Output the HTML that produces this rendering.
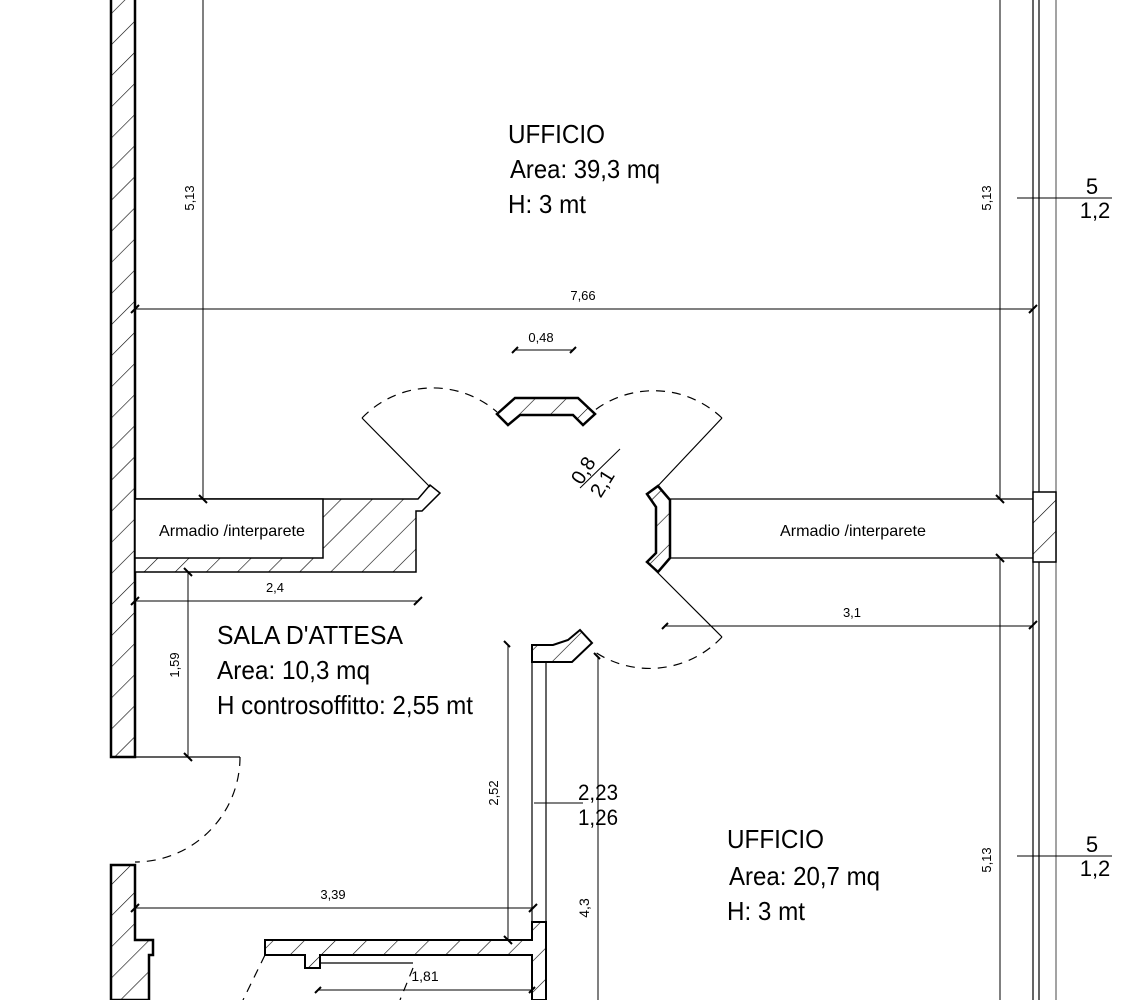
<!DOCTYPE html>
<html><head><meta charset="utf-8"><style>html,body{margin:0;padding:0;background:#fff}svg{display:block}</style></head>
<body>
<svg width="1143" height="1000" viewBox="0 0 1143 1000" xmlns="http://www.w3.org/2000/svg" font-family="'Liberation Sans Narrow','Liberation Sans',sans-serif" fill="none" stroke="#000">
<defs>
<pattern id="h" patternUnits="userSpaceOnUse" width="22" height="22" patternTransform="rotate(45)">
<rect width="22" height="22" fill="#fff" stroke="none"/>
<line x1="0" y1="0" x2="0" y2="22" stroke="#000" stroke-width="1.2"/>
</pattern>
</defs>
<g stroke-width="1.2">
<line x1="1033" y1="0" x2="1033" y2="1000"/>
<line x1="1039" y1="0" x2="1039" y2="1000"/>
<line x1="1056" y1="0" x2="1056" y2="1000" stroke="#666"/>
<rect x="1033" y="492" width="23" height="70" fill="url(#h)" stroke-width="1.5"/>

<path d="M111 0 V757 H135 V0" fill="url(#h)" stroke-width="2.5"/>
<path d="M135 572 H416 V511 H422 L440 493 L430 485 L418 499 H135 Z" fill="url(#h)" stroke-width="1.5"/>
<rect x="135" y="499" width="188" height="59" fill="#fff" stroke-width="1.5"/>
<line x1="670" y1="499" x2="1033" y2="499"/>
<line x1="670" y1="558" x2="1033" y2="558"/>
<path d="M647 494 L658 486 L670 500 V558 L658 572 L647 562 L656 553 V507 Z" fill="url(#h)" stroke-width="2.5"/>
<path d="M497 414 L515 398 H578 L595 414 L583 425 L573 415 H520 L508 425 Z" fill="url(#h)" stroke-width="2.5"/>
<line x1="430" y1="487" x2="362" y2="418"/>
<path d="M362 418 A98 98 0 0 1 497 412" stroke-dasharray="9 7"/>
<line x1="655" y1="489" x2="722" y2="418"/>
<path d="M722 418 A99 99 0 0 0 595 410" stroke-dasharray="9 7"/>
<line x1="655" y1="570" x2="722" y2="637"/>
<path d="M722 637 A99 99 0 0 1 595 652" stroke-dasharray="9 7"/>
<path d="M532 645 H553 L568 640 L580 630 L592 643 L572 662 H532 Z" fill="url(#h)" stroke-width="2"/>
<line x1="532" y1="662" x2="532" y2="922"/>
<line x1="546" y1="662" x2="546" y2="922"/>
<path d="M265 940 H532 V922 H546 V1000 H532 V955 H320 V968 H305 V955 H265 Z" fill="url(#h)" stroke-width="2"/>
<path d="M111 1000 V865 H135 V940 H153 V955 H149 V1000 Z" fill="url(#h)" stroke-width="2.5"/>
<line x1="111" y1="757" x2="240" y2="757"/>
<path d="M240 757 A105 105 0 0 1 135 862" stroke-dasharray="9 7"/>
<path d="M265 955 L243 1000" stroke-dasharray="9 7"/>
<path d="M413 968 L400 1000" stroke-dasharray="9 7"/>
<line x1="320" y1="963" x2="413" y2="963"/>

<g stroke-width="1">
<line x1="203" y1="0" x2="203" y2="499"/>
<line x1="1000" y1="0" x2="1000" y2="499"/>
<line x1="1000" y1="558" x2="1000" y2="1000"/>
<line x1="135" y1="309" x2="1033" y2="309"/>
<line x1="515" y1="350" x2="573" y2="350"/>
<line x1="1017" y1="198" x2="1112" y2="198"/>
<line x1="1017" y1="856" x2="1112" y2="856"/>
<line x1="665" y1="626" x2="1033" y2="626"/>
<line x1="135" y1="601" x2="418" y2="601"/>
<line x1="188" y1="572" x2="188" y2="757"/>
<line x1="135" y1="908" x2="533" y2="908"/>
<line x1="508" y1="645" x2="508" y2="940"/>
<line x1="534" y1="803" x2="583" y2="803"/>
<line x1="598" y1="657" x2="598" y2="1000"/>
<line x1="318" y1="990" x2="532" y2="990"/>
<line x1="580" y1="488" x2="620" y2="449"/>
</g>
<g stroke-width="2">
<path d="M199 495 l8 8 M996 495 l8 8 M996 554 l8 8 M131 313 l8 -8 M1029 313 l8 -8 M512 353 l6 -6 M570 353 l6 -6 M662 629 l6 -6 M1029 629 l8 -8 M131 605 l8 -8 M414 605 l8 -8 M184 568 l8 8 M184 753 l8 8 M131 912 l8 -8 M529 912 l8 -8 M504 641 l6 6 M504 936 l8 8 M594 653 l6 6 M315 993 l6 -6 M529 993 l6 -6"/>
</g>
</g>

<g fill="#000" stroke="none">
<text x="508" y="143" font-size="26" textLength="97" lengthAdjust="spacingAndGlyphs">UFFICIO</text>
<text x="510" y="178" font-size="26" textLength="150" lengthAdjust="spacingAndGlyphs">Area: 39,3 mq</text>
<text x="508" y="213" font-size="26" textLength="78" lengthAdjust="spacingAndGlyphs">H: 3 mt</text>
<text x="727" y="848" font-size="26" textLength="97" lengthAdjust="spacingAndGlyphs">UFFICIO</text>
<text x="729" y="885" font-size="26" textLength="151" lengthAdjust="spacingAndGlyphs">Area: 20,7 mq</text>
<text x="727" y="920" font-size="26" textLength="78" lengthAdjust="spacingAndGlyphs">H: 3 mt</text>
<text x="217" y="644" font-size="26" textLength="186" lengthAdjust="spacingAndGlyphs">SALA D'ATTESA</text>
<text x="217" y="679" font-size="26" textLength="153" lengthAdjust="spacingAndGlyphs">Area: 10,3 mq</text>
<text x="217" y="714" font-size="26" textLength="256" lengthAdjust="spacingAndGlyphs">H controsoffitto: 2,55 mt</text>
<text x="159" y="536" font-size="16" textLength="146" lengthAdjust="spacingAndGlyphs">Armadio /interparete</text>
<text x="780" y="536" font-size="16" textLength="146" lengthAdjust="spacingAndGlyphs">Armadio /interparete</text>
<text x="583" y="300" font-size="13" text-anchor="middle">7,66</text>
<text x="541" y="342" font-size="13" text-anchor="middle">0,48</text>
<text x="852" y="617" font-size="13" text-anchor="middle">3,1</text>
<text x="275" y="592" font-size="13" text-anchor="middle">2,4</text>
<text x="333" y="899" font-size="13" text-anchor="middle">3,39</text>
<text x="425" y="981" font-size="14" text-anchor="middle">1,81</text>
<text transform="translate(194,198) rotate(-90)" font-size="13" text-anchor="middle">5,13</text>
<text transform="translate(991,198) rotate(-90)" font-size="13" text-anchor="middle">5,13</text>
<text transform="translate(991,860) rotate(-90)" font-size="13" text-anchor="middle">5,13</text>
<text transform="translate(179,665) rotate(-90)" font-size="13" text-anchor="middle">1,59</text>
<text transform="translate(498,793) rotate(-90)" font-size="13" text-anchor="middle">2,52</text>
<text transform="translate(589,908) rotate(-90)" font-size="14" text-anchor="middle">4,3</text>
<text x="1092" y="194" font-size="22" text-anchor="middle">5</text>
<text x="1095" y="218" font-size="22" text-anchor="middle">1,2</text>
<text x="1092" y="852" font-size="22" text-anchor="middle">5</text>
<text x="1095" y="876" font-size="22" text-anchor="middle">1,2</text>
<text x="578" y="800" font-size="22" textLength="40" lengthAdjust="spacingAndGlyphs">2,23</text>
<text x="578" y="825" font-size="22" textLength="40" lengthAdjust="spacingAndGlyphs">1,26</text>
<text transform="translate(589,474) rotate(-58)" font-size="20" text-anchor="middle">0,8</text>
<text transform="translate(608,487) rotate(-58)" font-size="20" text-anchor="middle">2,1</text>
</g>
</svg>
</body></html>
